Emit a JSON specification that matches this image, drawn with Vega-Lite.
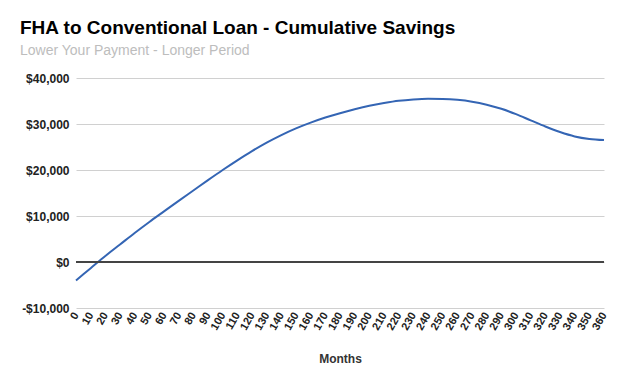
{
  "$schema": "https://vega.github.io/schema/vega-lite/v6.json",
  "autosize": {"type": "none"},
  "width": 528,
  "height": 230,
  "padding": {"left": 76, "top": 78, "right": 20, "bottom": 78},
  "background": "white",
  "title": {
    "text": "FHA to Conventional Loan - Cumulative Savings",
    "subtitle": "Lower Your Payment - Longer Period",
    "anchor": "start",
    "frame": "group",
    "dx": -56,
    "offset": 14,
    "font": "Liberation Sans",
    "fontSize": 19,
    "fontWeight": "bold",
    "color": "#000000",
    "subtitleFont": "Liberation Sans",
    "subtitleFontSize": 14,
    "subtitleColor": "#bdbdbd",
    "subtitlePadding": 6
  },
  "config": {
    "view": {"stroke": null},
    "axis": {"labelFont": "Liberation Sans", "titleFont": "Liberation Sans"}
  },
  "data": {
    "values": [
      {"month": 0, "savings": -4000},
      {"month": 10, "savings": -1350},
      {"month": 20, "savings": 1300},
      {"month": 30, "savings": 3800},
      {"month": 40, "savings": 6300},
      {"month": 50, "savings": 8700},
      {"month": 60, "savings": 11000},
      {"month": 70, "savings": 13300},
      {"month": 80, "savings": 15550},
      {"month": 90, "savings": 17800},
      {"month": 100, "savings": 20000},
      {"month": 110, "savings": 22100},
      {"month": 120, "savings": 24100},
      {"month": 130, "savings": 25950},
      {"month": 140, "savings": 27600},
      {"month": 150, "savings": 29050},
      {"month": 160, "savings": 30300},
      {"month": 170, "savings": 31400},
      {"month": 180, "savings": 32350},
      {"month": 190, "savings": 33200},
      {"month": 200, "savings": 33950},
      {"month": 210, "savings": 34550},
      {"month": 220, "savings": 35050},
      {"month": 230, "savings": 35350},
      {"month": 240, "savings": 35500},
      {"month": 250, "savings": 35450},
      {"month": 260, "savings": 35250},
      {"month": 270, "savings": 34850},
      {"month": 280, "savings": 34200},
      {"month": 290, "savings": 33300},
      {"month": 300, "savings": 32150},
      {"month": 310, "savings": 30800},
      {"month": 320, "savings": 29450},
      {"month": 330, "savings": 28250},
      {"month": 340, "savings": 27300},
      {"month": 350, "savings": 26750},
      {"month": 360, "savings": 26500}
    ]
  },
  "layer": [
    {
      "mark": {"type": "line", "color": "#3465b4", "strokeWidth": 2, "interpolate": "monotone"},
      "encoding": {
        "x": {
          "field": "month",
          "type": "quantitative",
          "scale": {"domain": [0, 360], "nice": false, "zero": false},
          "axis": {
            "title": "Months",
            "titleFontSize": 12,
            "titleFontWeight": "bold",
            "titleColor": "#333333",
            "titlePadding": 22,
            "values": [0,10,20,30,40,50,60,70,80,90,100,110,120,130,140,150,160,170,180,190,200,210,220,230,240,250,260,270,280,290,300,310,320,330,340,350,360],
            "labelAngle": -60,
            "labelAlign": "right",
            "labelBaseline": "middle",
            "labelFontSize": 11,
            "labelFontWeight": "bold",
            "labelColor": "#222222",
            "labelPadding": 5,
            "labelOverlap": false,
            "labelFlush": false,
            "grid": false,
            "ticks": false,
            "domain": false
          }
        },
        "y": {
          "field": "savings",
          "type": "quantitative",
          "scale": {"domain": [-10000, 40000], "nice": false},
          "axis": {
            "title": null,
            "values": [-10000, 0, 10000, 20000, 30000, 40000],
            "format": "$,.0f",
            "labelExpr": "replace(datum.label, '−', '-')",
            "labelFontSize": 12,
            "labelFontWeight": "bold",
            "labelColor": "#222222",
            "labelPadding": 7,
            "ticks": false,
            "domain": false,
            "gridColor": "#d0d0d0",
            "gridWidth": 1
          }
        }
      }
    },
    {
      "mark": {"type": "rule", "color": "#444444", "strokeWidth": 1},
      "encoding": {"y": {"datum": 0}}
    }
  ]
}
